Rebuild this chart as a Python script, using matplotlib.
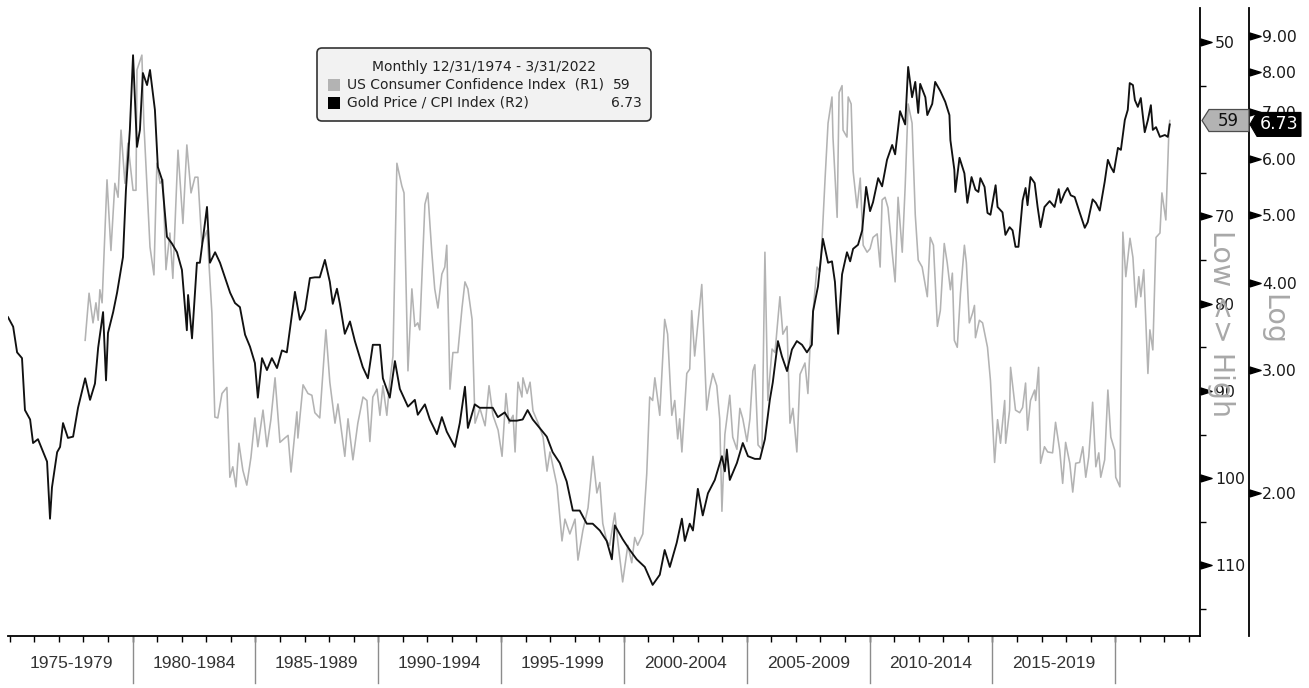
import numpy as np
import matplotlib
matplotlib.use("Agg")
import matplotlib.pyplot as plt
from matplotlib.patches import Polygon, FancyBboxPatch, Rectangle
from matplotlib.transforms import blended_transform_factory, ScaledTranslation, IdentityTransform
from matplotlib.ticker import FixedLocator, NullLocator, FixedFormatter

plt.rcParams['font.family'] = ['DejaVu Sans']

# ---------------- data ----------------
legend_title = "Monthly 12/31/1974 - 3/31/2022"
cci_name = "US Consumer Confidence Index  (R1)"
gold_name = "Gold Price / CPI Index (R2)"

gold_dates = [
    1974.93, 1975.14, 1975.30, 1975.50, 1975.62, 1975.83, 1975.95, 1976.15, 1976.52, 1976.64,
    1976.72, 1976.93, 1977.05, 1977.17, 1977.37, 1977.58, 1977.78, 1978.07, 1978.27, 1978.47,
    1978.60, 1978.80, 1978.92, 1979.00, 1979.21, 1979.37, 1979.61, 1979.73, 1979.89, 1980.02,
    1980.18, 1980.30, 1980.42, 1980.59, 1980.71, 1980.91, 1981.03, 1981.20, 1981.40, 1981.60,
    1981.81, 1982.01, 1982.21, 1982.26, 1982.42, 1982.62, 1982.74, 1983.03, 1983.15, 1983.36,
    1983.56, 1983.76, 1983.97, 1984.17, 1984.37, 1984.58, 1984.78, 1984.98, 1985.10, 1985.27,
    1985.47, 1985.67, 1985.88, 1986.08, 1986.28, 1986.61, 1986.81, 1987.02, 1987.22, 1987.42,
    1987.62, 1987.83, 1988.03, 1988.15, 1988.32, 1988.44, 1988.64, 1988.85, 1989.05, 1989.37,
    1989.58, 1989.78, 1990.07, 1990.19, 1990.47, 1990.68, 1990.88, 1991.21, 1991.49, 1991.61,
    1991.90, 1992.10, 1992.39, 1992.59, 1992.79, 1993.12, 1993.32, 1993.53, 1993.65, 1993.93,
    1994.13, 1994.42, 1994.66, 1994.87, 1995.15, 1995.35, 1995.64, 1995.88, 1996.08, 1996.29,
    1996.57, 1996.86, 1997.10, 1997.39, 1997.67, 1997.92, 1998.20, 1998.49, 1998.73, 1999.02,
    1999.30, 1999.51, 1999.63, 1999.95, 2000.24, 2000.52, 2000.85, 2001.17, 2001.46, 2001.66,
    2001.87, 2002.15, 2002.36, 2002.48, 2002.68, 2002.81, 2003.01, 2003.21, 2003.42, 2003.70,
    2003.99, 2004.11, 2004.19, 2004.31, 2004.60, 2004.84, 2005.05, 2005.33, 2005.54, 2005.74,
    2005.94, 2006.06, 2006.27, 2006.43, 2006.64, 2006.84, 2007.04, 2007.25, 2007.45, 2007.65,
    2007.70, 2007.90, 2008.10, 2008.31, 2008.47, 2008.59, 2008.72, 2008.88, 2009.08, 2009.21,
    2009.33, 2009.53, 2009.70, 2009.86, 2010.02, 2010.14, 2010.35, 2010.51, 2010.71, 2010.92,
    2011.04, 2011.24, 2011.45, 2011.57, 2011.73, 2011.86, 2011.98, 2012.06, 2012.27, 2012.35,
    2012.55, 2012.67, 2012.88, 2013.08, 2013.25, 2013.29, 2013.45, 2013.49, 2013.66, 2013.86,
    2013.98, 2014.15, 2014.31, 2014.43, 2014.51, 2014.68, 2014.80, 2014.92, 2015.13, 2015.21,
    2015.41, 2015.53, 2015.70, 2015.82, 2015.94, 2016.06, 2016.23, 2016.35, 2016.43, 2016.55,
    2016.72, 2016.84, 2016.96, 2017.12, 2017.33, 2017.53, 2017.70, 2017.78, 2017.94, 2018.06,
    2018.19, 2018.35, 2018.55, 2018.76, 2018.88, 2019.08, 2019.21, 2019.37, 2019.57, 2019.70,
    2019.82, 2019.94, 2020.11, 2020.23, 2020.39, 2020.51, 2020.59, 2020.72, 2020.80, 2020.92,
    2021.04, 2021.20, 2021.33, 2021.45, 2021.53, 2021.66, 2021.82, 2022.02, 2022.14, 2022.22,
]
gold_values = [
    3.57, 3.46, 3.18, 3.12, 2.63, 2.55, 2.36, 2.39, 2.22, 1.84,
    2.04, 2.29, 2.33, 2.52, 2.40, 2.41, 2.65, 2.92, 2.72, 2.87,
    3.23, 3.63, 2.90, 3.39, 3.63, 3.87, 4.35, 5.42, 6.61, 8.45,
    6.25, 6.61, 7.97, 7.66, 8.05, 7.06, 5.85, 5.61, 4.65, 4.55,
    4.42, 4.17, 3.42, 3.84, 3.33, 4.27, 4.27, 5.13, 4.27, 4.42,
    4.27, 4.07, 3.87, 3.74, 3.69, 3.37, 3.24, 3.07, 2.74, 3.12,
    3.00, 3.12, 3.02, 3.20, 3.18, 3.88, 3.54, 3.66, 4.06, 4.07,
    4.07, 4.31, 4.01, 3.73, 3.92, 3.73, 3.38, 3.52, 3.30, 3.03,
    2.92, 3.26, 3.26, 2.92, 2.74, 3.09, 2.82, 2.66, 2.72, 2.59,
    2.68, 2.55, 2.43, 2.57, 2.45, 2.33, 2.52, 2.84, 2.48, 2.68,
    2.65, 2.65, 2.65, 2.57, 2.61, 2.54, 2.54, 2.55, 2.63, 2.55,
    2.48, 2.41, 2.29, 2.21, 2.08, 1.89, 1.89, 1.81, 1.81, 1.77,
    1.71, 1.61, 1.80, 1.72, 1.66, 1.61, 1.57, 1.48, 1.53, 1.66,
    1.57, 1.70, 1.84, 1.71, 1.81, 1.77, 2.03, 1.86, 2.00, 2.09,
    2.26, 2.15, 2.31, 2.09, 2.21, 2.36, 2.26, 2.24, 2.24, 2.39,
    2.72, 2.88, 3.30, 3.14, 2.99, 3.21, 3.30, 3.26, 3.18, 3.26,
    3.64, 3.95, 4.62, 4.27, 4.29, 4.01, 3.38, 4.11, 4.42, 4.29,
    4.47, 4.53, 4.75, 5.48, 5.06, 5.21, 5.64, 5.49, 5.99, 6.29,
    6.10, 7.03, 6.73, 8.13, 7.36, 7.74, 6.99, 7.69, 7.36, 6.94,
    7.20, 7.74, 7.51, 7.25, 6.94, 6.39, 5.80, 5.39, 6.03, 5.73,
    5.20, 5.66, 5.43, 5.39, 5.64, 5.48, 5.03, 5.00, 5.51, 5.13,
    5.04, 4.68, 4.80, 4.75, 4.50, 4.50, 5.24, 5.46, 5.16, 5.66,
    5.55, 5.13, 4.80, 5.13, 5.23, 5.13, 5.44, 5.20, 5.37, 5.46,
    5.33, 5.30, 5.04, 4.79, 4.88, 5.26, 5.20, 5.07, 5.57, 5.99,
    5.85, 5.75, 6.23, 6.19, 6.83, 7.06, 7.71, 7.66, 7.29, 7.13,
    7.34, 6.56, 6.83, 7.17, 6.61, 6.67, 6.46, 6.50, 6.46, 6.73,
]

cci_dates = [
    1978.07, 1978.23, 1978.39, 1978.51, 1978.60, 1978.67, 1978.76, 1978.96, 1979.12, 1979.28,
    1979.41, 1979.53, 1979.69, 1979.81, 1980.02, 1980.14, 1980.18, 1980.38, 1980.46, 1980.71,
    1980.87, 1980.99, 1981.12, 1981.24, 1981.36, 1981.52, 1981.64, 1981.85, 1982.05, 1982.21,
    1982.38, 1982.54, 1982.66, 1982.82, 1983.03, 1983.23, 1983.35, 1983.47, 1983.64, 1983.84,
    1983.96, 1984.08, 1984.21, 1984.33, 1984.49, 1984.65, 1984.82, 1984.98, 1985.10, 1985.31,
    1985.47, 1985.63, 1985.80, 1986.00, 1986.20, 1986.33, 1986.45, 1986.69, 1986.73, 1986.94,
    1987.14, 1987.30, 1987.42, 1987.62, 1987.87, 1988.03, 1988.24, 1988.36, 1988.64, 1988.77,
    1988.97, 1989.17, 1989.38, 1989.54, 1989.66, 1989.78, 1989.95, 1990.07, 1990.19, 1990.35,
    1990.47, 1990.60, 1990.76, 1990.96, 1991.05, 1991.21, 1991.37, 1991.49, 1991.61, 1991.69,
    1991.90, 1992.02, 1992.18, 1992.30, 1992.43, 1992.59, 1992.71, 1992.79, 1992.92, 1993.04,
    1993.24, 1993.41, 1993.53, 1993.65, 1993.82, 1993.94, 1994.14, 1994.35, 1994.51, 1994.67,
    1994.88, 1995.04, 1995.20, 1995.32, 1995.49, 1995.57, 1995.69, 1995.85, 1995.89, 1996.06,
    1996.18, 1996.30, 1996.51, 1996.71, 1996.87, 1996.99, 1997.28, 1997.48, 1997.60, 1997.80,
    1998.01, 1998.13, 1998.33, 1998.54, 1998.74, 1998.90, 1999.02, 1999.14, 1999.30, 1999.42,
    1999.63, 1999.75, 1999.95, 2000.16, 2000.32, 2000.44, 2000.56, 2000.77, 2000.93, 2001.05,
    2001.17, 2001.26, 2001.46, 2001.66, 2001.78, 2001.95, 2002.07, 2002.19, 2002.27, 2002.36,
    2002.56, 2002.68, 2002.76, 2002.88, 2003.17, 2003.37, 2003.49, 2003.62, 2003.78, 2003.90,
    2003.99, 2004.11, 2004.23, 2004.31, 2004.43, 2004.60, 2004.72, 2004.84, 2005.01, 2005.13,
    2005.25, 2005.33, 2005.46, 2005.62, 2005.74, 2005.86, 2006.03, 2006.15, 2006.35, 2006.47,
    2006.64, 2006.76, 2006.88, 2007.04, 2007.17, 2007.37, 2007.49, 2007.58, 2007.78, 2007.86,
    2007.98, 2008.07, 2008.19, 2008.31, 2008.47, 2008.51, 2008.68, 2008.76, 2008.88, 2008.92,
    2009.08, 2009.13, 2009.25, 2009.33, 2009.49, 2009.62, 2009.74, 2009.90, 2010.02, 2010.14,
    2010.31, 2010.43, 2010.51, 2010.63, 2010.75, 2010.92, 2011.04, 2011.16, 2011.33, 2011.45,
    2011.57, 2011.73, 2011.86, 2011.98, 2012.14, 2012.35, 2012.47, 2012.60, 2012.76, 2012.88,
    2013.04, 2013.16, 2013.29, 2013.37, 2013.45, 2013.57, 2013.70, 2013.86, 2013.94, 2014.06,
    2014.19, 2014.27, 2014.31, 2014.47, 2014.60, 2014.80, 2014.92, 2015.09, 2015.21, 2015.33,
    2015.50, 2015.54, 2015.70, 2015.74, 2015.94, 2016.11, 2016.23, 2016.35, 2016.43, 2016.55,
    2016.72, 2016.76, 2016.88, 2016.96, 2017.12, 2017.25, 2017.45, 2017.57, 2017.74, 2017.86,
    2017.98, 2018.15, 2018.27, 2018.39, 2018.55, 2018.68, 2018.80, 2018.92, 2019.08, 2019.21,
    2019.33, 2019.41, 2019.57, 2019.70, 2019.82, 2019.98, 2020.02, 2020.19, 2020.31, 2020.43,
    2020.60, 2020.72, 2020.84, 2020.96, 2021.04, 2021.16, 2021.33, 2021.41, 2021.53, 2021.66,
    2021.82, 2021.90, 2022.06, 2022.19, 2022.22,
]
cci_values = [
    84.2, 78.8, 82.2, 79.9, 81.9, 78.4, 79.9, 65.8, 73.9, 66.2,
    67.8, 60.1, 66.2, 61.6, 67.0, 67.0, 53.2, 51.5, 59.3, 73.5,
    76.7, 63.9, 66.2, 65.8, 76.1, 71.9, 77.1, 62.4, 70.8, 61.8,
    67.3, 65.5, 65.5, 73.1, 71.6, 81.1, 93.0, 93.1, 90.3, 89.6,
    99.9, 98.7, 101.0, 96.0, 99.1, 100.8, 97.6, 93.1, 96.4, 92.2,
    96.4, 93.3, 88.5, 95.9, 95.4, 95.1, 99.3, 92.4, 95.4, 89.3,
    90.3, 90.5, 92.5, 93.1, 83.0, 89.0, 93.7, 91.5, 97.5, 93.2,
    97.9, 93.7, 90.7, 91.1, 95.8, 90.7, 89.8, 92.8, 89.4, 92.8,
    89.0, 86.0, 63.9, 66.5, 67.3, 87.7, 78.3, 82.6, 82.2, 83.0,
    68.6, 67.3, 74.1, 78.3, 80.5, 76.6, 75.8, 73.3, 89.8, 85.6,
    85.6, 80.5, 77.5, 78.3, 81.8, 93.7, 92.0, 94.0, 89.4, 92.8,
    94.5, 97.5, 90.3, 93.7, 92.8, 97.0, 89.0, 90.7, 88.5, 90.3,
    89.0, 92.3, 93.7, 95.3, 99.2, 97.0, 100.9, 107.2, 104.7, 106.4,
    104.7, 109.4, 106.0, 103.4, 97.5, 101.7, 100.5, 105.2, 107.2, 107.7,
    104.0, 107.2, 111.9, 107.7, 109.7, 106.8, 107.7, 106.4, 99.5, 90.7,
    91.1, 88.5, 92.8, 81.8, 83.5, 92.8, 91.1, 95.5, 93.2, 97.0,
    88.0, 87.5, 80.8, 86.0, 77.8, 92.2, 89.8, 88.0, 89.4, 93.2,
    103.8, 95.0, 92.3, 90.5, 95.3, 96.7, 92.0, 93.2, 95.8, 93.2,
    87.7, 87.0, 96.2, 96.7, 74.1, 91.1, 85.2, 85.6, 79.2, 83.5,
    82.6, 93.7, 92.0, 97.0, 88.1, 86.8, 90.3, 84.7, 78.3, 75.8,
    76.3, 72.4, 65.6, 59.3, 56.3, 60.9, 70.1, 55.8, 55.0, 60.1,
    60.9, 56.3, 57.1, 64.8, 69.0, 65.6, 73.3, 74.1, 73.7, 72.4,
    72.0, 75.8, 68.1, 67.8, 69.0, 74.1, 77.5, 67.8, 74.1, 66.5,
    57.1, 59.3, 69.8, 75.0, 75.8, 79.2, 72.4, 73.3, 82.6, 80.8,
    73.1, 75.3, 78.4, 76.5, 84.2, 85.0, 78.8, 73.3, 75.3, 82.2,
    81.1, 80.2, 83.9, 81.9, 82.2, 85.0, 88.8, 98.2, 93.3, 96.0,
    91.1, 96.0, 92.2, 87.3, 92.2, 92.5, 91.9, 89.1, 94.5, 91.1,
    89.9, 91.1, 87.3, 98.3, 96.4, 97.0, 97.1, 93.6, 96.8, 100.6,
    95.9, 98.3, 101.6, 98.3, 98.2, 96.4, 99.9, 97.6, 91.3, 98.7,
    97.1, 99.9, 97.9, 89.9, 95.3, 96.8, 99.9, 101.0, 71.8, 76.9,
    72.5, 74.7, 80.4, 76.9, 79.2, 76.1, 88.0, 83.0, 85.3, 72.4,
    71.9, 67.3, 70.4, 59.7, 59.0,
]

block_starts = [1975, 1980, 1985, 1990, 1995, 2000, 2005, 2010, 2015]
block_labels = ["1975-1979", "1980-1984", "1985-1989", "1990-1994", "1995-1999",
                "2000-2004", "2005-2009", "2010-2014", "2015-2019"]
separators = [1980, 1985, 1990, 1995, 2000, 2005, 2010, 2015, 2020]
year_ticks = list(range(1975, 2024))
r1_ticks = [50, 70, 80, 90, 100, 110]
r1_minor = [55, 65, 75, 85, 95, 105, 115]
r2_ticks = [2, 3, 4, 5, 6, 7, 8, 9]

# ---------------- layout ----------------
W, H = 1309, 688
DPI = 100
fig = plt.figure(figsize=(W / DPI, H / DPI), dpi=DPI)
fig.patch.set_facecolor("white")

def pt(px):
    return px * 72.0 / DPI

L, R, T, B = 8, 1200, 8, 636
R2_OFF = 49  # pixels between the two right-hand axes
ax = fig.add_axes([L / W, 1 - B / H, (R - L) / W, (B - T) / H])
ax2 = ax.twinx()

GREY = "#b3b3b3"
ax.plot(cci_dates, cci_values, color=GREY, lw=1.15, zorder=2, solid_joinstyle="round")
ax2.plot(gold_dates, gold_values, color="#111111", lw=1.35, zorder=3, solid_joinstyle="round")

# spines
for a in (ax, ax2):
    a.spines["left"].set_visible(False)
    a.spines["top"].set_visible(False)
ax2.spines["bottom"].set_visible(False)
ax.spines["bottom"].set_linewidth(1.3)
ax.spines["right"].set_linewidth(1.3)
ax2.spines["right"].set_linewidth(1.3)
ax2.spines["right"].set_position(("outward", pt(R2_OFF)))

# x axis
ax.xaxis.set_major_locator(FixedLocator([b + 2.5 for b in block_starts]))
ax.xaxis.set_major_formatter(FixedFormatter(block_labels))
ax.xaxis.set_minor_locator(FixedLocator(year_ticks))
ax.tick_params(axis="x", which="major", length=0, pad=pt(20), labelsize=12.5,
               labelcolor="#333333", labelfontfamily="Liberation Sans")
ax.tick_params(axis="x", which="minor", length=pt(6), width=1, color="black", direction="out")
sep_trans = blended_transform_factory(ax.transData, ax.transAxes)
for s in separators:
    ax.plot([s, s], [0, -47 / (B - T)], transform=sep_trans, color="#8c8c8c",
            lw=1.0, clip_on=False)

# R1 axis (inverted, linear)
ax.yaxis.tick_right()
ax.yaxis.set_major_locator(FixedLocator(r1_ticks))
ax.yaxis.set_minor_locator(FixedLocator(r1_minor))
ax.tick_params(axis="y", which="major", length=0, pad=pt(15), labelsize=11.3,
               labelcolor="#1a1a1a", left=False, right=True, labelleft=False, labelright=True)
ax.tick_params(axis="y", which="minor", length=pt(6), width=1, color="black",
               left=False, right=True, direction="out")

tri = [(-1, -0.62), (1, 0), (-1, 0.62), (-1, -0.62)]
t1 = blended_transform_factory(ax.transAxes, ax.transData) + \
    ScaledTranslation(6 / DPI, 0, fig.dpi_scale_trans)
ax.plot([1] * len(r1_ticks), r1_ticks, ls="none", marker=tri, ms=8, color="black",
        transform=t1, clip_on=False)

# R2 axis (log)
ax2.set_yscale("log")
ax2.yaxis.set_major_locator(FixedLocator(r2_ticks))
ax2.yaxis.set_major_formatter(FixedFormatter([f"{v:.2f}" for v in r2_ticks]))
ax2.yaxis.set_minor_locator(NullLocator())
ax2.tick_params(axis="y", which="major", length=0, pad=pt(13), labelsize=11.3, labelcolor="#1a1a1a")
t2 = blended_transform_factory(ax2.transAxes, ax2.transData) + \
    ScaledTranslation((R2_OFF + 6) / DPI, 0, fig.dpi_scale_trans)
ax2.plot([1] * len(r2_ticks), r2_ticks, ls="none", marker=tri, ms=8, color="black",
         transform=t2, clip_on=False)

# limits
ax.set_xlim(1974.93, 2023.45)
ax.set_ylim(118.1, 46.1)
ax2.set_ylim(1.251, 9.87)

# axis titles
ax.text((1221 - L) / (R - L), 1 - (323 - T) / (B - T), "Low <> High", transform=ax.transAxes,
        rotation=270, ha="center", va="center", fontsize=20.5, color="#a8a8a8")
ax.text((1273 - L) / (R - L), 1 - (320 - T) / (B - T), "Log", transform=ax.transAxes,
        rotation=270, ha="center", va="center", fontsize=20.5, color="#a8a8a8")

# ---------------- value tags ----------------
ID = IdentityTransform()
fig.canvas.draw()
x_r1 = ax.transAxes.transform((1, 0))[0]
x_r2 = x_r1 + R2_OFF
y_c = ax.transData.transform((cci_dates[-1], cci_values[-1]))[1]
y_g = ax2.transData.transform((gold_dates[-1], gold_values[-1]))[1]

tag1 = Polygon([(x_r1 + 2, y_c), (x_r1 + 9, y_c + 11), (x_r2, y_c + 11),
                (x_r2, y_c - 11), (x_r1 + 9, y_c - 11)], closed=True,
               transform=ID, fc="#b3b3b3", ec="#4d4d4d", lw=0.9, zorder=6)
fig.add_artist(tag1)
fig.text(x_r1 + 28, y_c, f"{cci_values[-1]:.0f}", transform=ID, ha="center", va="center",
         fontsize=12, color="#111111", zorder=7)

tag2 = Polygon([(x_r2 + 1, y_g), (x_r2 + 8, y_g + 12), (x_r2 + 52, y_g + 12),
                (x_r2 + 52, y_g - 12), (x_r2 + 8, y_g - 12)], closed=True,
               transform=ID, fc="black", ec="black", lw=0.8, zorder=6)
fig.add_artist(tag2)
fig.text(x_r2 + 30, y_g, f"{gold_values[-1]:.2f}", transform=ID, ha="center", va="center",
         fontsize=12.5, color="white", zorder=7)

# ---------------- legend box ----------------
def py(y_top):
    return H - y_top

box = FancyBboxPatch((317, py(121)), 334, 73, boxstyle="round,pad=0,rounding_size=5",
                     transform=ID, fc="#f2f2f2", ec="#333333", lw=1.2, zorder=6)
fig.add_artist(box)
fig.text(484, py(67), legend_title, transform=ID, ha="center", va="center",
         fontsize=10, color="#222222", zorder=7)
fig.add_artist(Rectangle((328, py(91)), 12, 12, transform=ID, fc=GREY, ec="none", zorder=7))
fig.add_artist(Rectangle((328, py(109)), 12, 12, transform=ID, fc="black", ec="none", zorder=7))
fig.text(347, py(85), cci_name, transform=ID, ha="left", va="center",
         fontsize=10, color="#222222", zorder=7)
fig.text(613, py(85), f"{cci_values[-1]:.0f}", transform=ID, ha="left", va="center",
         fontsize=10, color="#222222", zorder=7)
fig.text(347, py(103), gold_name, transform=ID, ha="left", va="center",
         fontsize=10, color="#222222", zorder=7)
fig.text(642, py(103), f"{gold_values[-1]:.2f}", transform=ID, ha="right", va="center",
         fontsize=10, color="#222222", zorder=7)

fig.savefig("out.png", dpi=DPI)
